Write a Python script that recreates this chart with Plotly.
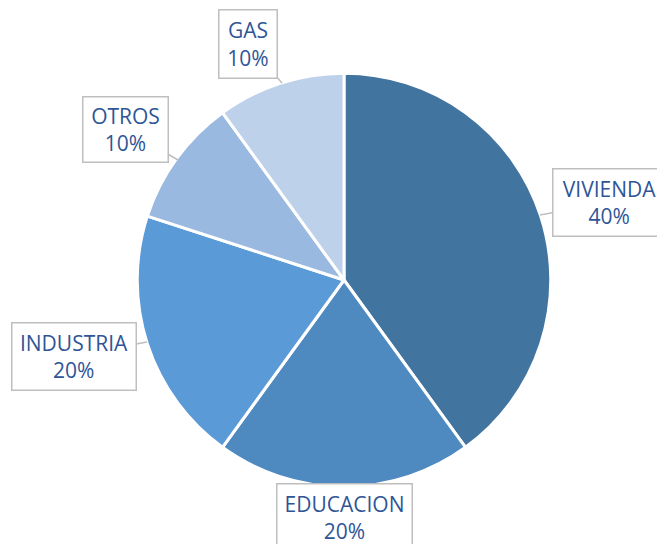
import plotly.graph_objects as go

W, H = 657, 544

labels = ["VIVIENDA", "EDUCACION", "INDUSTRIA", "OTROS", "GAS"]
values = [40, 20, 20, 10, 10]
colors = ["#4274A0", "#4E89BF", "#5A9AD6", "#9AB9E0", "#BDD1EB"]

# callout placement in pixels: (tip x, tip y, box center x, box center y, box w, box h, pointer)
callouts = {
    "VIVIENDA": (540, 215, 609, 202, 114, 68, True),
    "EDUCACION": (344, 487, 344, 517, 136, 68, False),
    "INDUSTRIA": (147, 342, 74, 356, 125, 68, True),
    "OTROS": (178, 160, 125, 129, 86, 66, True),
    "GAS": (282, 83, 248, 44, 59, 69, True),
}


def px(x, y):
    return x / W, 1 - y / H


fig = go.Figure()
fig.add_trace(go.Pie(
    labels=labels,
    values=values,
    sort=False,
    direction="clockwise",
    rotation=0,
    marker=dict(colors=colors, line=dict(color="white", width=3)),
    textinfo="none",
    hoverinfo="label+percent",
    domain=dict(x=[0.2089, 0.8383], y=[0.1048, 0.8658]),
    showlegend=False,
))

total = sum(values)
for lab, val in zip(labels, values):
    tx, ty, bx, by, bw, bh, arrow = callouts[lab]
    x, y = px(tx, ty)
    fig.add_annotation(
        x=x, y=y, xref="paper", yref="paper",
        text=f"{lab}<br>{val / total:.0%}",
        showarrow=True,
        arrowhead=0,
        arrowwidth=1.5,
        arrowcolor="#BFBFBF" if arrow else "rgba(0,0,0,0)",
        ax=bx - tx, ay=by - ty,
        width=bw - 4, height=bh - 4,
        font=dict(family="Open Sans", size=21, color="#2F5597"),
        bgcolor="white",
        bordercolor="#BFBFBF",
        borderwidth=1.5,
        borderpad=1,
        align="center",
        valign="middle",
    )

fig.update_layout(
    width=W, height=H,
    margin=dict(l=0, r=0, t=0, b=0),
    paper_bgcolor="white",
    plot_bgcolor="white",
)

fig.write_html("out.html", config={"displayModeBar": False},
               post_script="document.body.style.margin='0';")
